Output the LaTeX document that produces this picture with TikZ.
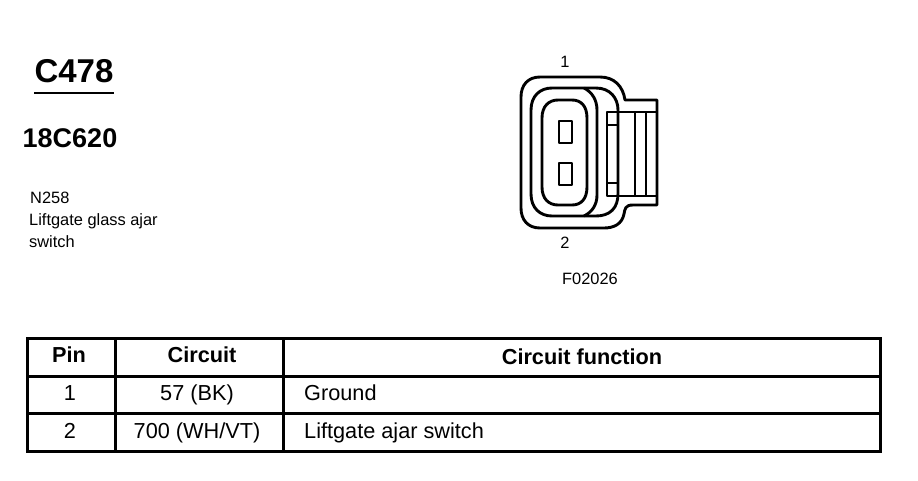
\documentclass[tikz,border=0pt]{standalone}
\usepackage{fontspec}
\setmainfont{Liberation Sans}
\tikzset{
  thick line/.style={line width=3pt},
  conn/.style={line width=2.9pt,line join=round},
  small/.style={inner sep=0pt,anchor=base,font=\fontsize{16.4}{19}\selectfont},
  cell/.style={inner sep=0pt,anchor=base,font=\fontsize{21.7}{25}\selectfont},
  head/.style={inner sep=0pt,anchor=base,font=\fontsize{21.7}{25}\selectfont\bfseries},
}
\begin{document}
\begin{tikzpicture}[x=1pt,y=-1pt]
\useasboundingbox (0,0) rectangle (918,480);
\fill[white] (0,0) rectangle (918,480);
% Title block
\node[inner sep=0pt,anchor=base,font=\fontsize{33}{38}\selectfont\bfseries] (title) at (74,82) {C478};
\draw[line width=1.5pt] (34,93) -- (114,93);
\node[inner sep=0pt,anchor=base,font=\fontsize{27}{31}\selectfont\bfseries] (part) at (70,147) {18C620};
\node[small,anchor=base west] (n258) at (30,203) {N258};
\node[small,anchor=base west] (lg) at (29,225) {Liftgate glass ajar};
\node[small,anchor=base west] (sw) at (29,247) {switch};
% Connector labels
\node[small] (p1) at (565,67) {1};
\node[small] (p2) at (565,248) {2};
\node[small] (fig) at (590,284) {F02026};
% Connector outline
\draw[conn] (540,77) -- (600,77) .. controls (614,77) and (623,86) .. (625,100)
  -- (657,100) -- (657,205) -- (633,205) .. controls (625,205) and (625,209) .. (624,214)
  .. controls (622,224) and (614,228) .. (604,228) -- (540,228)
  .. controls (528,228) and (521,220) .. (521,208) -- (521,97)
  .. controls (521,85) and (528,77) .. (540,77) -- cycle;
\draw[conn] (531,110) .. controls (531,96) and (540,88) .. (552,88) -- (596,88)
  .. controls (610,88) and (618,98) .. (618,110) -- (618,194)
  .. controls (618,208) and (610,216) .. (596,216) -- (552,216)
  .. controls (540,216) and (531,208) .. (531,194) -- cycle;
\draw[conn] (584,88) .. controls (592,92) and (597,100) .. (597,110) -- (597,195)
  .. controls (597,205) and (592,212) .. (584,216);
\draw[conn] (542,118) .. controls (542,106) and (549,100) .. (558,100) -- (572,100)
  .. controls (581,100) and (587,106) .. (587,118) -- (587,187)
  .. controls (587,199) and (581,205) .. (572,205) -- (558,205)
  .. controls (549,205) and (542,199) .. (542,187) -- cycle;
\draw[conn] (559,121) rectangle (572,143);
\draw[conn] (559,163) rectangle (572,185);
% Latch
\draw[conn] (657,112) -- (607,112) -- (607,196) -- (657,196);
\draw[conn] (607,125) -- (618,125);
\draw[conn] (607,183) -- (618,183);
\draw[conn] (635,112) -- (635,196);
\draw[conn] (646,112) -- (646,196);
% Table
\draw[thick line] (27,338) rectangle (880,451);
\draw[thick line] (27,376) -- (880,376);
\draw[thick line] (27,413) -- (880,413);
\draw[thick line] (115,338) -- (115,451);
\draw[thick line] (283,338) -- (283,451);
\node[head] (hpin) at (69,362) {Pin};
\node[head] (hcir) at (202,362) {Circuit};
\node[head] (hfun) at (582,364) {Circuit function};
\node[cell] (a1) at (70,400) {1};
\node[cell] (b1) at (197,400) {57 (BK)};
\node[cell,anchor=base west] (c1) at (304,400) {Ground};
\node[cell] (a2) at (70,438) {2};
\node[cell] (b2) at (197,438) {700 (WH/VT)};
\node[cell,anchor=base west] (c2) at (304,438) {Liftgate ajar switch};
\end{tikzpicture}
\end{document}
